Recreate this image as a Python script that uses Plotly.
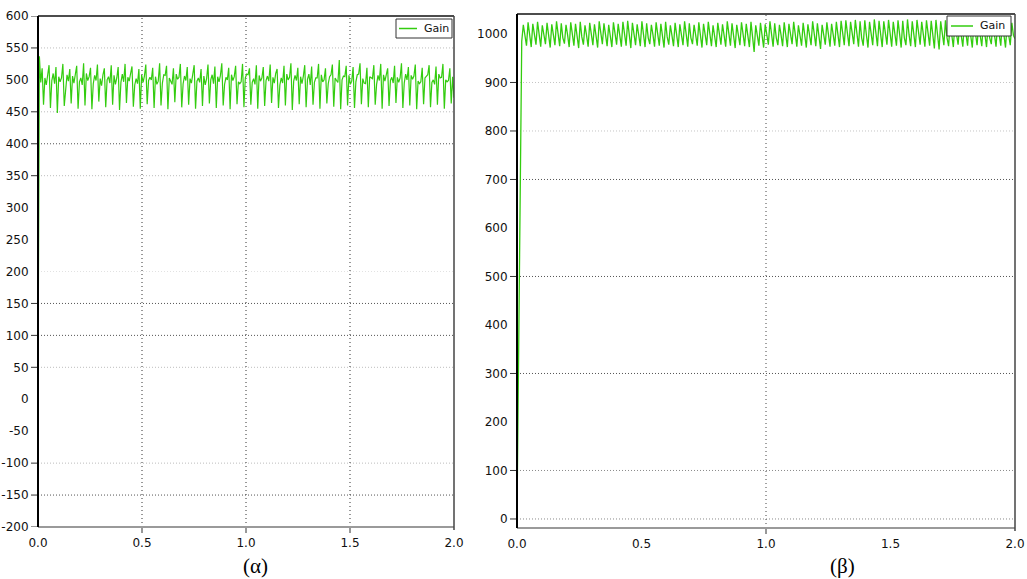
import plotly.graph_objects as go

# ---------------- data ----------------
# (α) panel: Gain signal, uniformly sampled over 0..2 s
gain_a = [
    18, 537,
    496, 518, 461, 503, 492, 507, 523, 456, 499, 510,
    494, 520, 448, 505, 497, 503, 525, 459, 491, 508,
    498, 517, 463, 506, 495, 509, 522, 455, 497, 503,
    492, 526, 460, 510, 499, 505, 519, 454, 494, 507,
    499, 524, 466, 502, 491, 508, 518, 457, 500, 505,
    495, 523, 461, 507, 493, 503, 520, 453, 496, 509,
    497, 525, 464, 504, 498, 510, 521, 458, 492, 502,
    494, 517, 455, 508, 496, 506, 524, 462, 499, 504,
    500, 519, 456, 505, 493, 498, 526, 460, 495, 508,
    507, 522, 454, 503, 497, 493, 518, 465, 509, 501,
    504, 525, 457, 494, 506, 499, 520, 461, 502, 495,
    509, 523, 455, 498, 503, 496, 517, 459, 506, 492,
    502, 524, 463, 500, 508, 494, 521, 456, 505, 497,
    507, 526, 460, 493, 504, 500, 519, 454, 508, 499,
    505, 522, 462, 497, 494, 497, 525, 457, 503, 509,
    508, 518, 461, 496, 502, 493, 523, 455, 507, 498,
    503, 520, 459, 499, 506, 498, 524, 464, 504, 495,
    510, 517, 456, 492, 503, 495, 522, 460, 509, 500,
    504, 526, 453, 498, 507, 499, 519, 462, 505, 494,
    506, 523, 457, 501, 509, 492, 521, 461, 496, 503,
    503, 525, 455, 508, 497, 500, 518, 463, 494, 505,
    508, 524, 458, 503, 499, 496, 531, 454, 500, 506,
    505, 522, 460, 507, 493, 498, 520, 456, 497, 508,
    509, 526, 462, 502, 495, 494, 519, 457, 505, 503,
    502, 523, 461, 493, 507, 499, 525, 455, 508, 498,
    507, 518, 459, 499, 504, 495, 522, 464, 504, 496,
    503, 526, 456, 495, 509, 500, 520, 460, 507, 501,
    506, 524, 454, 498, 494, 497, 519, 462, 503, 506,
    508, 523, 457, 496, 500, 493, 521, 461, 509, 503,
    504, 525, 455, 500, 497, 499, 518, 463, 505, 472,
]

# (β) panel: Gain signal, uniformly sampled over 0..2 s
gain_b = [
    8, 380, 760, 985,
    1019, 998, 976, 1024, 995, 973, 1021, 999, 978, 1025, 993, 974,
    1018, 997, 979, 1023, 994, 972, 1020, 1000, 977, 1026, 996, 975,
    1022, 992, 980, 1019, 998, 973, 1024, 995, 976, 1021, 999, 971,
    1025, 994, 978, 1018, 997, 974, 1023, 993, 977, 1020, 1000, 972,
    1026, 996, 979, 1022, 992, 975, 1019, 998, 973, 1024, 995, 978,
    1021, 999, 974, 1025, 993, 976, 1027, 997, 971, 1023, 994, 977,
    1020, 1000, 975, 1026, 996, 973, 1022, 992, 979, 1019, 998, 974,
    1024, 995, 976, 1021, 999, 972, 1025, 994, 978, 1018, 997, 975,
    1023, 993, 973, 1020, 1000, 977, 1026, 996, 974, 1022, 992, 979,
    1019, 998, 976, 1024, 995, 972, 1021, 999, 977, 1025, 993, 975,
    1018, 997, 973, 1023, 994, 978, 1020, 1000, 974, 1026, 996, 976,
    1022, 992, 971, 1019, 998, 977, 1024, 995, 975, 1021, 999, 973,
    1025, 988, 963, 1018, 997, 976, 1023, 994, 972, 1020, 1000, 978,
    1026, 996, 974, 1022, 992, 977, 1019, 998, 975, 1024, 995, 973,
    1021, 999, 979, 1025, 993, 974, 1018, 997, 976, 1023, 994, 972,
    1020, 1000, 977, 1026, 996, 975, 1022, 992, 969, 1019, 998, 978,
    1024, 995, 974, 1021, 999, 976, 1025, 993, 973, 1027, 997, 977,
    1028, 994, 975, 1025, 1000, 979, 1029, 996, 974, 1026, 992, 976,
    1028, 998, 972, 1025, 995, 977, 1030, 999, 975, 1027, 993, 973,
    1026, 997, 978, 1029, 994, 974, 1025, 1000, 976, 1028, 996, 972,
    1027, 992, 977, 1030, 998, 975, 1026, 995, 973, 1029, 999, 978,
    1025, 993, 974, 1028, 997, 976, 1027, 994, 970, 1029, 1000, 968,
    1026, 996, 977, 1028, 992, 975, 1025, 998, 973, 1022, 995, 978,
    1019, 999, 974, 1024, 993, 976, 1021, 997, 972, 1025, 994, 977,
    1018, 1000, 975, 1023, 996, 973, 1020, 992, 979, 1024, 998, 974,
    1021, 995, 976, 1025, 999, 972, 1019, 993, 977, 1023, 997, 990,
]

T_END = 2.0
t_a = [i * T_END / (len(gain_a) - 1) for i in range(len(gain_a))]
t_b = [i * T_END / (len(gain_b) - 1) for i in range(len(gain_b))]

x_tickvals = [0.0, 0.5, 1.0, 1.5, 2.0]
x_ticktext = ["0.0", "0.5", "1.0", "1.5", "2.0"]
ya_tickvals = list(range(-200, 601, 50))
ya_ticktext = [str(v) for v in ya_tickvals]          # plain hyphen-minus
yb_tickvals = list(range(0, 1001, 100))
yb_ticktext = [str(v) for v in yb_tickvals]

series_name = "Gain"
captions = ["(α)", "(β)"]

# grid / tick mark selection (as visible in the reference)
a_grid_dark = [400, 150, 100, -150]
a_grid_light = [550, 450, 350, 50, -100]
a_grid_faint = [200]
a_ticks = [600, 550, 450, 400, 350, 150, 100, 50, -100, -150, -200]
a_vgrid = [0.5, 1.0, 1.5]
a_xticks = [0.5, 1.0, 1.5]

b_grid_dark = [700, 500, 300]
b_grid_med = [100, 0]
b_grid_light = [900, 800]
b_ticks = [900, 800, 700, 500, 300, 100, 0]
b_vgrid = [1.0]
b_xticks = [1.0]

# ---------------- figure ----------------
W, H = 1027, 579
GREEN = "#33cc0f"
FONT = "DejaVu Sans"


def px(x):
    return x / W


def py(y):
    return 1 - y / H


dom_a_x = [px(38), px(454)]
dom_a_y = [py(527), py(16)]
dom_b_x = [px(517), px(1015)]
dom_b_y = [py(528), py(14)]
wa, ha = 454 - 38, 527 - 16
wb, hb = 1015 - 517, 528 - 14

fig = go.Figure()
fig.add_trace(go.Scatter(x=t_a, y=gain_a, mode="lines", name=series_name,
                         line=dict(color=GREEN, width=1.2), xaxis="x", yaxis="y",
                         showlegend=False))
fig.add_trace(go.Scatter(x=t_b, y=gain_b, mode="lines", name=series_name,
                         line=dict(color=GREEN, width=1.3), xaxis="x2", yaxis="y2",
                         showlegend=False))

tickfont = dict(family=FONT, size=12, color="#111")
common_x = dict(range=[0, 2], tickvals=x_tickvals, ticktext=x_ticktext,
                showgrid=False, zeroline=False, showline=False, ticks="outside",
                ticklen=5, tickcolor="rgba(0,0,0,0)", tickfont=tickfont,
                automargin=False, fixedrange=True)
common_y = dict(showgrid=False, zeroline=False, showline=False, ticks="outside",
                ticklen=6, tickcolor="rgba(0,0,0,0)", tickfont=tickfont,
                automargin=False, fixedrange=True)

shapes = []


def hgrid(xr, yr, vals, color):
    for v in vals:
        shapes.append(dict(type="line", xref=xr + " domain", yref=yr, x0=0, x1=1,
                           y0=v, y1=v, layer="below",
                           line=dict(color=color, width=1, dash="1px,2px")))


def vgrid(xr, yr, vals, color):
    for v in vals:
        shapes.append(dict(type="line", xref=xr, yref=yr + " domain", x0=v, x1=v,
                           y0=0, y1=1, layer="below",
                           line=dict(color=color, width=1, dash="1px,3px")))


def yticks(xr, yr, vals, wpx):
    for v in vals:
        shapes.append(dict(type="line", xref=xr + " domain", yref=yr,
                           x0=-7 / wpx, x1=0, y0=v, y1=v,
                           line=dict(color="#333", width=1)))


def xticks(xr, yr, vals, hpx):
    for v in vals:
        shapes.append(dict(type="line", xref=xr, yref=yr + " domain",
                           x0=v, x1=v, y0=-6 / hpx, y1=0,
                           line=dict(color="#333", width=1)))


def borders(xr, yr, hpx):
    d = dict(xref=xr + " domain", yref=yr + " domain", type="line")
    shapes.append(dict(d, x0=0, x1=1, y0=0, y1=0, line=dict(color="#9a9a9a", width=2)))
    shapes.append(dict(d, x0=0, x1=1, y0=1, y1=1, line=dict(color="#111", width=1.5)))
    shapes.append(dict(d, x0=1, x1=1, y0=-3 / hpx, y1=1, line=dict(color="#444", width=1.5)))
    shapes.append(dict(d, x0=0, x1=0, y0=0, y1=1, line=dict(color="#000", width=2)))


hgrid("x", "y", a_grid_dark, "#555")
hgrid("x", "y", a_grid_light, "#bdbdbd")
hgrid("x", "y", a_grid_faint, "#e2e2e2")
vgrid("x", "y", a_vgrid, "#333")
yticks("x", "y", a_ticks, wa)
xticks("x", "y", a_xticks, ha)
borders("x", "y", ha)

hgrid("x2", "y2", b_grid_dark, "#555")
hgrid("x2", "y2", b_grid_med, "#8a8a8a")
hgrid("x2", "y2", b_grid_light, "#c4c4c4")
vgrid("x2", "y2", b_vgrid, "#444")
yticks("x2", "y2", b_ticks, wb)
xticks("x2", "y2", b_xticks, hb)
borders("x2", "y2", hb)

annotations = []


def legend_box(x0, y0, x1, y1, lx0, lx1, tx):
    ly = (y0 + y1) / 2
    shapes.append(dict(type="rect", xref="paper", yref="paper",
                       x0=px(x0), x1=px(x1), y0=py(y1), y1=py(y0),
                       fillcolor="white", line=dict(color="#333", width=1)))
    shapes.append(dict(type="line", xref="paper", yref="paper",
                       x0=px(lx0), x1=px(lx1), y0=py(ly), y1=py(ly),
                       line=dict(color=GREEN, width=1.5)))
    annotations.append(dict(text=series_name, xref="paper", yref="paper",
                            x=px(tx), y=py(ly), xanchor="left", yanchor="middle",
                            showarrow=False,
                            font=dict(family=FONT, size=11, color="#111")))


legend_box(396, 19, 452, 38, 399, 417, 422)
legend_box(947, 16, 1011, 36, 951, 973, 978)

annotations.append(dict(text=captions[0], xref="paper", yref="paper",
                        x=px(255), y=py(566), xanchor="center", yanchor="middle",
                        showarrow=False,
                        font=dict(family="Liberation Serif", size=21, color="#000")))
annotations.append(dict(text=captions[1], xref="paper", yref="paper",
                        x=px(842), y=py(566), xanchor="center", yanchor="middle",
                        showarrow=False,
                        font=dict(family="Liberation Serif", size=21, color="#000")))

fig.update_layout(
    width=W, height=H,
    margin=dict(l=0, r=0, t=0, b=0),
    paper_bgcolor="white", plot_bgcolor="white",
    showlegend=False,
    xaxis=dict(common_x, domain=dom_a_x, anchor="y"),
    yaxis=dict(common_y, domain=dom_a_y, anchor="x", range=[-200, 600],
               tickvals=ya_tickvals, ticktext=ya_ticktext),
    xaxis2=dict(common_x, domain=dom_b_x, anchor="y2"),
    yaxis2=dict(common_y, domain=dom_b_y, anchor="x2", range=[-18.6, 1041.2],
                tickvals=yb_tickvals, ticktext=yb_ticktext),
    shapes=shapes,
    annotations=annotations,
)

fig.write_html("out.html")
